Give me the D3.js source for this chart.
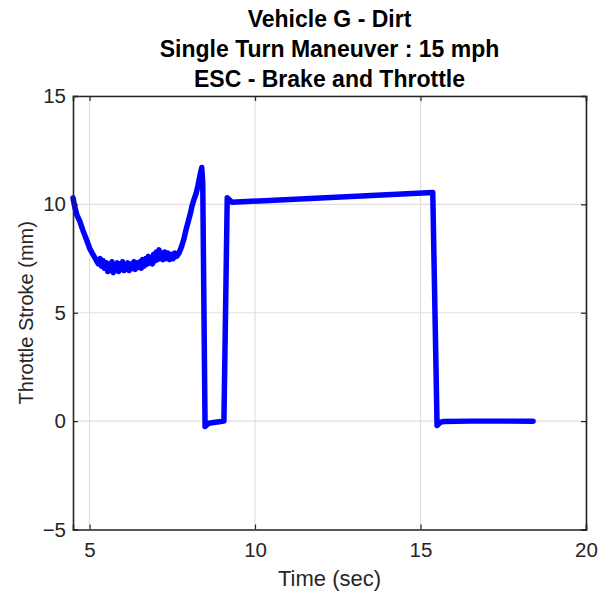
<!DOCTYPE html>
<html>
<head>
<meta charset="utf-8">
<script src="https://cdn.jsdelivr.net/npm/d3@7"></script>
<style>
body { margin: 0; background: #fff; }
text { font-family: "Liberation Sans", Arial, sans-serif; }
</style>
</head>
<body>
<script>
// title lines
var titles = ["Vehicle G - Dirt", "Single Turn Maneuver : 15 mph", "ESC - Brake and Throttle"]
var xTicks = [5, 10, 15, 20]
var yTicks = [-5, 0, 5, 10, 15]

// time (sec) and throttle stroke (mm)
var time = [4.50, 4.55, 4.62, 4.71, 4.80, 4.90, 5.01, 5.10, 5.21, 5.27, 5.32, 5.36, 5.41, 5.45, 5.51, 5.55,
  5.60, 5.64, 5.68, 5.72, 5.76, 5.80, 5.84, 5.88, 5.92, 5.96, 6.00, 6.04, 6.08, 6.12, 6.16, 6.20,
  6.25, 6.30, 6.34, 6.38, 6.42, 6.47, 6.52, 6.56, 6.60, 6.65, 6.70, 6.74, 6.78, 6.82, 6.86, 6.90,
  6.94, 6.98, 7.02, 7.06, 7.10, 7.14, 7.18, 7.22, 7.27, 7.32, 7.37, 7.42, 7.48, 7.53, 7.58, 7.63,
  7.70, 7.78, 7.85, 7.91, 7.98, 8.05, 8.10, 8.16, 8.22, 8.28, 8.32, 8.36, 8.39, 8.42, 8.49, 8.60,
  8.80, 9.06, 9.16, 9.30, 15.37, 15.50, 15.60, 15.70, 16.5, 18.4]
var stroke = [10.3, 9.9, 9.5, 9.2, 8.8, 8.4, 7.95, 7.7, 7.4, 7.25, 7.5, 7.15, 7.4, 7.05, 7.3, 6.9,
  7.25, 6.95, 7.35, 6.85, 7.2, 7.0, 7.3, 6.9, 7.25, 7.05, 7.35, 6.95, 7.2, 7.0, 7.3, 6.95,
  7.25, 7.05, 7.35, 7.0, 7.3, 7.1, 7.35, 7.05, 7.45, 7.15, 7.5, 7.25, 7.6, 7.3, 7.55, 7.25,
  7.7, 7.4, 7.8, 7.45, 7.9, 7.5, 7.75, 7.45, 7.8, 7.5, 7.75, 7.45, 7.7, 7.5, 7.75, 7.6,
  7.75, 8.05, 8.4, 8.8, 9.2, 9.6, 9.95, 10.25, 10.5, 10.9, 11.2, 11.5, 11.7, 11.0, -0.25, -0.1,
  -0.05, 0.0, 10.3, 10.1, 10.55, -0.2, -0.05, -0.02, 0.0, 0.0]

var data = time.map(function(t, i){ return {t: t, v: stroke[i]} })

var W = 609, H = 597
var margin = {top: 96, left: 73}
var width = 586 - margin.left
var height = 529.5 - margin.top

var svg = d3.select("body").append("svg")
  .attr("width", W)
  .attr("height", H)

var g = svg.append("g")
  .attr("transform", "translate(" + margin.left + "," + margin.top + ")")

var x = d3.scaleLinear().domain([4.5, 20]).range([0, width])
var y = d3.scaleLinear().domain([-5, 15]).range([height, 0])

// grid
g.selectAll(".gx").data(xTicks).enter().append("line")
  .attr("x1", function(d){ return x(d) }).attr("x2", function(d){ return x(d) })
  .attr("y1", 0).attr("y2", height)
  .attr("stroke", "#dfdfdf").attr("stroke-width", 1.2)
g.selectAll(".gy").data(yTicks).enter().append("line")
  .attr("x1", 0).attr("x2", width)
  .attr("y1", function(d){ return y(d) }).attr("y2", function(d){ return y(d) })
  .attr("stroke", "#dfdfdf").attr("stroke-width", 1.2)

// curve
var line = d3.line()
  .x(function(d){ return x(d.t) })
  .y(function(d){ return y(d.v) })

g.append("path")
  .datum(data)
  .attr("d", line)
  .attr("fill", "none")
  .attr("stroke", "#0000ff")
  .attr("stroke-width", 5.5)
  .attr("stroke-linejoin", "round")
  .attr("stroke-linecap", "round")

// axes
var xAxis = g.append("g")
  .attr("transform", "translate(0," + height + ")")
  .call(d3.axisBottom(x).tickValues(xTicks).tickSize(-5).tickPadding(13))
var yAxis = g.append("g")
  .call(d3.axisLeft(y).tickValues(yTicks).tickSize(-5).tickPadding(7))
var xTop = g.append("g")
  .call(d3.axisTop(x).tickValues(xTicks).tickSize(-5).tickFormat(""))
var yRight = g.append("g")
  .attr("transform", "translate(" + width + ",0)")
  .call(d3.axisRight(y).tickValues(yTicks).tickSize(-5).tickFormat(""))

;[xAxis, yAxis, xTop, yRight].forEach(function(a){
  a.selectAll("path").attr("stroke", "#262626").attr("stroke-width", 1.6)
  a.selectAll("line").attr("stroke", "#262626").attr("stroke-width", 1.2)
  a.selectAll("text").attr("fill", "#262626").style("font-size", "20.5px")
    .style("font-family", "Liberation Sans, Arial, sans-serif")
})

// labels
svg.append("text")
  .attr("x", margin.left + width / 2).attr("y", 586)
  .attr("text-anchor", "middle")
  .attr("fill", "#262626")
  .style("font-size", "22px")
  .text("Time (sec)")

svg.append("text")
  .attr("transform", "translate(33," + (margin.top + height / 2) + ") rotate(-90)")
  .attr("text-anchor", "middle")
  .attr("fill", "#262626")
  .style("font-size", "20px")
  .text("Throttle Stroke (mm)")

svg.selectAll(".title").data(titles).enter().append("text")
  .attr("x", margin.left + width / 2)
  .attr("y", function(d, i){ return 27 + i * 30 })
  .attr("text-anchor", "middle")
  .attr("fill", "#000")
  .style("font-size", "23px")
  .style("font-weight", "bold")
  .text(function(d){ return d })
</script>
</body>
</html>
